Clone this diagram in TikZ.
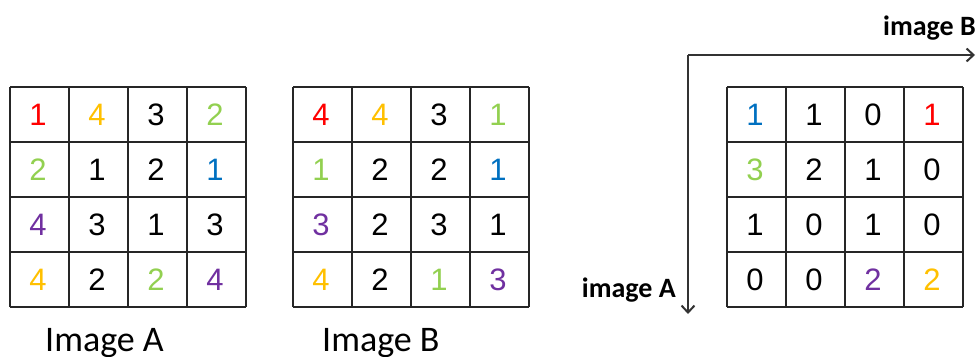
\documentclass[tikz,border=0pt]{standalone}
\usepackage{fontspec}
\setmainfont{Liberation Sans}
\newfontfamily\labelfont{Carlito}
\usetikzlibrary{arrows.meta}
\definecolor{numred}{RGB}{255,0,0}
\definecolor{numorange}{RGB}{255,192,0}
\definecolor{numgreen}{RGB}{146,208,80}
\definecolor{numblue}{RGB}{0,112,192}
\definecolor{numpurple}{RGB}{112,48,160}
\tikzset{
  cellnum/.style={font=\fontsize{31}{31}\selectfont, inner sep=0pt},
  gridline/.style={line width=1.6pt, black!85},
  axis/.style={line width=2pt, black!80, -{Straight Barb[length=7pt,width=13pt]}},
  axislabel/.style={font=\labelfont\bfseries\fontsize{28}{28}\selectfont, inner sep=0pt},
  caption/.style={font=\labelfont\fontsize{36}{36}\selectfont, inner sep=0pt}
}
\begin{document}
\begin{tikzpicture}[x=1pt,y=1pt]
    \useasboundingbox (0,0) rectangle (976,356);

    % Image A
    \draw[gridline, shift={(10,49)}] (0,0) grid[xstep=59,ystep=55] (236,220);
    \foreach \row [count=\r] in {
        {1/numred,4/numorange,3/black,2/numgreen},
        {2/numgreen,1/black,2/black,1/numblue},
        {4/numpurple,3/black,1/black,3/black},
        {4/numorange,2/black,2/numgreen,4/numpurple}} {
        \foreach \v/\col [count=\c] in \row {
            \node[cellnum, text=\col] (a-\r-\c) at ({10+59*\c-31},{269-55*\r+27.5}) {\v};
        }
    }
    \node[caption, anchor=base west] (capA) at (45,5) {Image A};

    % Image B
    \draw[gridline, shift={(293,49)}] (0,0) grid[xstep=59,ystep=55] (236,220);
    \foreach \row [count=\r] in {
        {4/numred,4/numorange,3/black,1/numgreen},
        {1/numgreen,2/black,2/black,1/numblue},
        {3/numpurple,2/black,3/black,1/black},
        {4/numorange,2/black,1/numgreen,3/numpurple}} {
        \foreach \v/\col [count=\c] in \row {
            \node[cellnum, text=\col] (b-\r-\c) at ({293+59*\c-31},{269-55*\r+27.5}) {\v};
        }
    }
    \node[caption, anchor=base west] (capB) at (322,5) {Image B};

    % co-occurrence counts
    \draw[gridline, shift={(727,49)}] (0,0) grid[xstep=59,ystep=55] (236,220);
    \foreach \row [count=\r] in {
        {1/numblue,1/black,0/black,1/numred},
        {3/numgreen,2/black,1/black,0/black},
        {1/black,0/black,1/black,0/black},
        {0/black,0/black,2/numpurple,2/numorange}} {
        \foreach \v/\col [count=\c] in \row {
            \node[cellnum, text=\col] (m-\r-\c) at ({727+59*\c-31},{269-55*\r+27.5}) {\v};
        }
    }

    % axes
    \coordinate (corner) at (688,301);
    \coordinate (bend) at (975,301);
    \coordinate (aend) at (688,42);
    \draw[axis] (corner) -- (bend);
    \draw[axis] (corner) -- (aend);
    \node[axislabel, anchor=east] (lblB) at (976,328) {image B};
    \node[axislabel, anchor=east] (lblA) at (676,66) {image A};
\end{tikzpicture}
\end{document}
